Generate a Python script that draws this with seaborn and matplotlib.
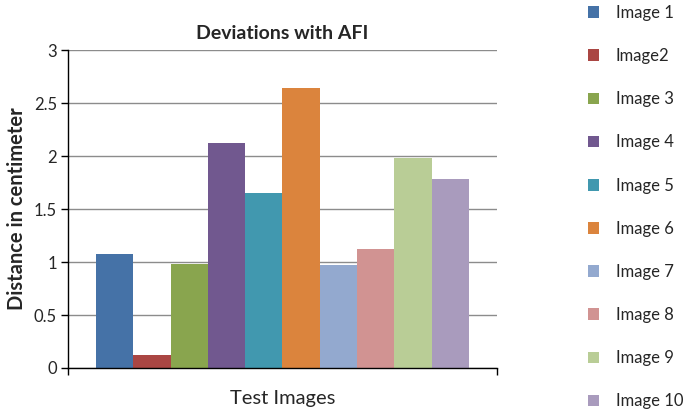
import pandas as pd
import matplotlib
matplotlib.use("Agg")
import matplotlib.pyplot as plt
import seaborn as sns

# --- DATA ---
image_names = ["Image 1", "Image2", "Image 3", "Image 4", "Image 5",
               "Image 6", "Image 7", "Image 8", "Image 9", "Image 10"]
deviations = [1.08, 0.12, 0.98, 2.12, 1.65, 2.64, 0.97, 1.12, 1.98, 1.78]
bar_colors = ["#4572A7", "#AA4643", "#89A54E", "#71588F", "#4198AF",
              "#DB843D", "#93A9CF", "#D19392", "#B9CD96", "#A99BBD"]
y_ticks = [0, 0.5, 1, 1.5, 2, 2.5, 3]
y_tick_labels = ["0", "0.5", "1", "1.5", "2", "2.5", "3"]

sns.set_theme(style="white")
plt.rcParams["font.family"] = ["Lato", "DejaVu Sans"]

df = pd.DataFrame({"group": [""] * len(image_names),
                   "image": image_names,
                   "deviation": deviations})

fig = plt.figure(figsize=(6.85, 4.12), dpi=100)
ax = fig.add_axes([0.0993, 0.1068, 0.6262, 0.7718])

sns.barplot(data=df, x="group", y="deviation", hue="image", hue_order=image_names,
            palette=bar_colors, width=0.87, gap=0, saturation=1, linewidth=0, ax=ax)

ax.set_xlim(-0.5, 0.5)
ax.set_ylim(0, 3)
ax.set_yticks(y_ticks)
ax.set_yticklabels(y_tick_labels)
ax.yaxis.grid(True, color="#8c8c8c", linewidth=1)
ax.set_axisbelow(True)

for s in ["top", "right"]:
    ax.spines[s].set_visible(False)
for s in ["left", "bottom"]:
    ax.spines[s].set_color("black")
    ax.spines[s].set_linewidth(1)

ax.set_xticks([-0.5, 0.5])
ax.set_xticklabels(["", ""])
ax.tick_params(axis="x", direction="out", length=5, width=1, color="black", bottom=True)
ax.tick_params(axis="y", direction="out", length=5, width=1, color="black", left=True,
               labelsize=12, pad=3)

ax.set_title("Deviations with AFI", fontsize=14, fontweight="bold", pad=8)
ax.set_ylabel("Distance in centimeter", fontsize=14.5, fontweight="bold", labelpad=5)
ax.set_xlabel("Test Images", fontsize=14.5, labelpad=7)

handles, labels = ax.get_legend_handles_labels()
ax.get_legend().remove()
fig.legend(handles, labels, loc="center left", bbox_to_anchor=(0.848, 0.497),
           frameon=False, fontsize=12, handlelength=0.7, handleheight=0.7,
           handletextpad=1.0, labelspacing=1.63, borderaxespad=0)

plt.savefig("out.png", dpi=100)
